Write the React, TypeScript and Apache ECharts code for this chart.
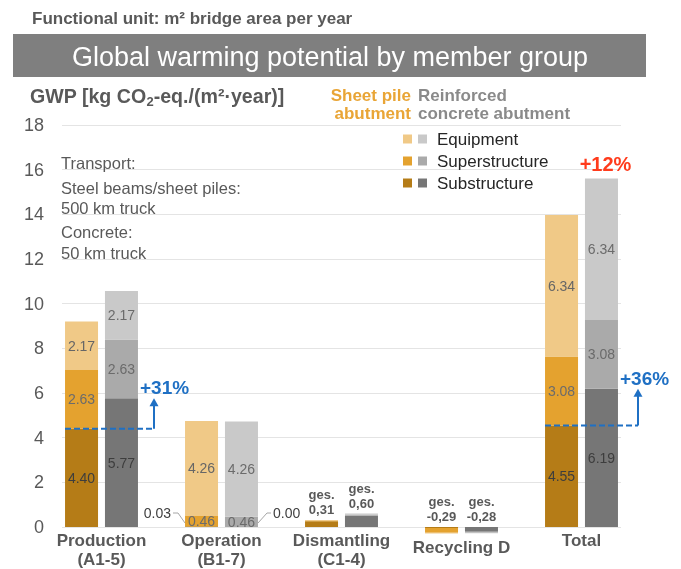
import React, { useEffect, useRef } from 'react';
import * as echarts from 'echarts';

const categories = ['Production\n(A1-5)', 'Operation\n(B1-7)', 'Dismantling\n(C1-4)', 'Recycling D', 'Total'];
// Sheet pile abutment
const sheetSub = [4.40, 0.03, 0.26, -0.04, 4.55];
const sheetSuper = [2.63, 0.46, 0.03, -0.22, 3.08];
const sheetEquip = [2.17, 4.26, 0.02, -0.03, 6.34];
// Reinforced concrete abutment
const concSub = [5.77, 0.00, 0.50, -0.21, 6.19];
const concSuper = [2.63, 0.46, 0.06, -0.05, 3.08];
const concEquip = [2.17, 4.26, 0.04, -0.02, 6.34];
// Stack totals written as "ges." labels
const sheetTotalText = ['', '', 'ges.\n0,31', 'ges.\n-0,29', ''];
const concTotalText = ['', '', 'ges.\n0,60', 'ges.\n-0,28', ''];
const yMin = 0;
const yMax = 18;
const yStep = 2;
const legendItems = ['Equipment', 'Superstructure', 'Substructure'];
const transportNotes = ['Transport:', 'Steel beams/sheet piles:', '500 km truck', 'Concrete:', '50 km truck'];

const ORANGE = ['#F0C987', '#E4A22F', '#B57C17'];
const GREY = ['#C9C9C9', '#AAAAAA', '#767676'];
const BLUE = '#1F70C4';
const RED = '#FF3B1C';
const TXT = '#595959';
const FF = 'Liberation Sans, Arial, sans-serif';

export default function App() {
  const ref = useRef<HTMLDivElement>(null);
  useEffect(() => {
    const chart = echarts.init(ref.current!, null, { renderer: 'svg' });
    const labelFor = (idx: number[], color: string) => ({
      show: true,
      position: 'inside',
      fontSize: 14,
      fontFamily: FF,
      color,
      formatter: (p: any) => (idx.includes(p.dataIndex) ? Number(p.value).toFixed(2) : ''),
    });
    const mk = (name: string, stack: string, data: number[], color: string, idx: number[], lc: string) => ({
      name,
      type: 'bar',
      stack,
      data,
      barWidth: 33,
      barGap: '21%',
      clip: false,
      xAxisIndex: 0,
      yAxisIndex: 0,
      itemStyle: { color },
      label: labelFor(idx, lc),
      z: 3,
    });
    const option: any = {
      animation: false,
      textStyle: { fontFamily: FF },
      grid: [
        { left: 41.5, right: 39.5, top: 125, bottom: 42 },
        { left: 62, right: 60, top: 125, bottom: 42 },
      ],
      xAxis: [
        {
          type: 'category',
          gridIndex: 0,
          data: categories.map((c) =>
            c === 'Recycling D' ? { value: c, textStyle: { lineHeight: 33 } } : c
          ),
          axisLine: { show: false },
          axisTick: { show: false },
          axisLabel: {
            interval: 0,
            margin: 4,
            fontSize: 17,
            fontWeight: 'bold',
            color: TXT,
            lineHeight: 19,
          },
        },
        { type: 'value', gridIndex: 1, show: false, min: 0, max: 1 },
      ],
      yAxis: [
        { type: 'value', gridIndex: 0, min: yMin, max: yMax, interval: yStep, show: false },
        {
          type: 'value',
          gridIndex: 1,
          min: yMin,
          max: yMax,
          interval: yStep,
          axisLine: { show: false },
          axisTick: { show: false },
          axisLabel: { fontSize: 18, color: TXT, margin: 18 },
          splitLine: { lineStyle: { color: '#E4E4E4', width: 1 } },
        },
      ],
      series: [
        mk('Sheet sub', 'sheet', sheetSub, ORANGE[2], [0, 4], '#3D3D3D'),
        mk('Sheet super', 'sheet', sheetSuper, ORANGE[1], [0, 1, 4], '#6B6B6B'),
        mk('Sheet equip', 'sheet', sheetEquip, ORANGE[0], [0, 1, 4], '#666666'),
        mk('Conc sub', 'conc', concSub, GREY[2], [0, 4], '#3D3D3D'),
        mk('Conc super', 'conc', concSuper, GREY[1], [0, 1, 4], '#6B6B6B'),
        mk('Conc equip', 'conc', concEquip, GREY[0], [0, 1, 4], '#6B6B6B'),
      ],
    };
    chart.setOption(option);

    const px = (i: number, v: number) => chart.convertToPixel({ xAxisIndex: 0, yAxisIndex: 0 }, [i, v]) as number[];
    const g: any[] = [];
    // header
    g.push({
      type: 'text', x: 32, y: 18,
      style: { text: 'Functional unit: m² bridge area per year', font: `bold 17px ${FF}`, fill: TXT, verticalAlign: 'middle' },
    });
    g.push({ type: 'rect', shape: { x: 13, y: 34, width: 633, height: 43 }, style: { fill: '#7F7F7F' } });
    g.push({
      type: 'text', x: 330, y: 57,
      style: { text: 'Global warming potential by member group', font: `500 27px ${FF}`, fill: '#FFFFFF', align: 'center', verticalAlign: 'middle' },
    });
    g.push({
      type: 'text', x: 30, y: 96,
      style: {
        text: 'GWP [kg CO{sub|2}-eq./(m²·year)]',
        font: `bold 19.6px ${FF}`,
        fill: TXT,
        verticalAlign: 'middle',
        rich: { sub: { font: `bold 13px ${FF}`, fill: TXT, padding: [10, 0, 0, 0] } },
      },
    });
    g.push({
      type: 'text', x: 411, y: 104,
      style: { text: 'Sheet pile\nabutment', font: `bold 17px ${FF}`, fill: '#E9A536', align: 'right', verticalAlign: 'middle', lineHeight: 18 },
    });
    g.push({
      type: 'text', x: 418, y: 104,
      style: { text: 'Reinforced\nconcrete abutment', font: `bold 17px ${FF}`, fill: '#8A8A8A', align: 'left', verticalAlign: 'middle', lineHeight: 18 },
    });
    // legend
    const rowY = [139, 161, 183];
    legendItems.forEach((name, k) => {
      g.push({ type: 'rect', shape: { x: 403, y: rowY[k] - 4.5, width: 9, height: 9 }, style: { fill: ORANGE[k] } });
      g.push({ type: 'rect', shape: { x: 418, y: rowY[k] - 4.5, width: 9, height: 9 }, style: { fill: GREY[k] } });
      g.push({
        type: 'text', x: 437, y: rowY[k],
        style: { text: name, font: `17px ${FF}`, fill: '#262626', verticalAlign: 'middle' },
      });
    });
    // transport notes
    const noteY = [163, 188, 208, 232, 253];
    transportNotes.forEach((t, k) => {
      g.push({
        type: 'text', x: 61, y: noteY[k],
        style: { text: t, font: `16.5px ${FF}`, fill: TXT, verticalAlign: 'middle' },
      });
    });

    const half = 20; // bar center offset
    const bw = 33;
    const sum = (a: number[], b: number[], c: number[], i: number) => a[i] + b[i] + c[i];

    // ges. labels
    for (let i = 0; i < categories.length; i++) {
      [
        [sheetTotalText, -half, sum(sheetSub, sheetSuper, sheetEquip, i)],
        [concTotalText, half, sum(concSub, concSuper, concEquip, i)],
      ].forEach(([arr, off, tot]: any) => {
        if (!arr[i]) return;
        const [cx, yy] = px(i, Math.max(tot, 0));
        g.push({
          type: 'text', x: cx + off, y: yy - 3,
          style: { text: arr[i], font: `bold 13px ${FF}`, fill: TXT, align: 'center', verticalAlign: 'bottom', lineHeight: 15 },
        });
      });
    }

    // leader labels for Operation substructure
    {
      const [cx, y0] = px(1, 0);
      const oL = cx - half - bw / 2;
      g.push({ type: 'polyline', shape: { points: [[oL - 12, y0 - 14], [oL - 7, y0 - 14], [oL, y0 - 4]] }, style: { stroke: '#A6A6A6', lineWidth: 1, fill: 'none' } });
      g.push({ type: 'text', x: oL - 14, y: y0 - 14, style: { text: sheetSub[1].toFixed(2), font: `14px ${FF}`, fill: '#404040', align: 'right', verticalAlign: 'middle' } });
      const gR = cx + half + bw / 2;
      g.push({ type: 'polyline', shape: { points: [[gR, y0 - 4], [gR + 9, y0 - 14], [gR + 13, y0 - 14]] }, style: { stroke: '#A6A6A6', lineWidth: 1, fill: 'none' } });
      g.push({ type: 'text', x: gR + 15, y: y0 - 14, style: { text: concSub[1].toFixed(2), font: `14px ${FF}`, fill: '#404040', align: 'left', verticalAlign: 'middle' } });
    }

    // increase arrows
    const arrow = (i: number, base: number, target: number, ext: number, text: string) => {
      const [cx, yb] = px(i, base);
      const [, yt] = px(i, target);
      const xl = cx - half - bw / 2;
      const xa = cx + ext;
      g.push({ type: 'line', shape: { x1: xl, y1: yb, x2: xa, y2: yb }, style: { stroke: BLUE, lineWidth: 2, lineDash: [6, 3] }, z: 10 });
      g.push({ type: 'line', shape: { x1: xa, y1: yb, x2: xa, y2: yt + 6 }, style: { stroke: BLUE, lineWidth: 2 }, z: 10 });
      g.push({ type: 'polygon', shape: { points: [[xa - 4.5, yt + 8], [xa + 4.5, yt + 8], [xa, yt]] }, style: { fill: BLUE }, z: 10 });
      g.push({ type: 'text', x: cx + 38.5, y: yt - 1, style: { text, font: `bold 19px ${FF}`, fill: BLUE, verticalAlign: 'bottom' }, z: 10 });
    };
    arrow(0, sheetSub[0], concSub[0], 52.5, '+31%');
    arrow(4, sheetSub[4], concSub[4], 56.5, '+36%');

    {
      const [cx, yt] = px(4, sum(concSub, concSuper, concEquip, 4));
      g.push({ type: 'text', x: cx + half + 4, y: yt - 4, style: { text: '+12%', font: `bold 20px ${FF}`, fill: RED, align: 'center', verticalAlign: 'bottom' }, z: 10 });
    }

    chart.setOption({ graphic: g });
    return () => chart.dispose();
  }, []);
  return <div ref={ref} style={{ position: 'fixed', left: 0, top: 0, width: 681, height: 569 }} />;
}
